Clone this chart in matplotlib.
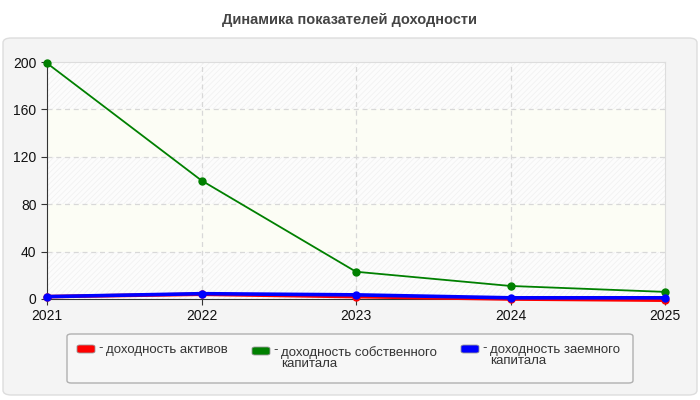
import matplotlib
matplotlib.use("Agg")
import matplotlib.pyplot as plt
from matplotlib.patches import FancyBboxPatch
import matplotlib as mpl

mpl.rcParams['hatch.color'] = '#efefef'
mpl.rcParams['hatch.linewidth'] = 0.5
plt.rcParams['font.family'] = ['Liberation Sans', 'DejaVu Sans']

years = ["2021", "2022", "2023", "2024", "2025"]
roa = [2, 4, 2, 0, -1]
roe = [199, 100, 23, 11, 6]
rod = [2, 4.5, 3.5, 1, 1]
yticks = [0, 40, 80, 120, 160, 200]
labels = ["доходность активов", "доходность собственного\nкапитала", "доходность заемного\nкапитала"]
colors = ["#ff0000", "#008000", "#0000ff"]
title = "Динамика показателей доходности"

W, H = 700, 400
fig = plt.figure(figsize=(7, 4), dpi=100)
fig.patch.set_facecolor('white')

# outer panel
panel = FancyBboxPatch((3 / W, 5 / H), 694 / W, 357 / H, boxstyle="round,pad=0,rounding_size=0.012",
                       transform=fig.transFigure, facecolor='#f4f4f4', edgecolor='#dddddd', lw=1, zorder=-10)
fig.patches.append(panel)

fig.text(0.5, 1 - 20 / H, title, ha='center', va='center', fontsize=10.5, fontweight='bold', color='#444444')

ax = fig.add_axes([47 / W, (400 - 299) / H, (665 - 47) / W, (299 - 62) / H])
ax.set_facecolor('white')
x = list(range(len(years)))

for i in range(len(yticks) - 1):
    lo, hi = yticks[i], yticks[i + 1]
    if i % 2 == 0:
        ax.axhspan(lo, hi, facecolor='#fcfcfc', hatch='//////', edgecolor='#f0f0f0', lw=0, zorder=0)
    else:
        ax.axhspan(lo, hi, facecolor='#fcfdf5', lw=0, zorder=0)

for yv in yticks[1:-1]:
    ax.axhline(yv, color='#d8d8d8', lw=0.9, ls=(0, (4, 3)), zorder=1)
for xv in x[1:-1]:
    ax.axvline(xv, color='#d8d8d8', lw=0.9, ls=(0, (4, 3)), zorder=1)

ax.plot(x, roe, color=colors[1], lw=1.3, marker='o', ms=5, zorder=3, clip_on=False)
ax.plot(x, roa, color=colors[0], lw=2.6, marker='o', ms=5, zorder=3, clip_on=False)
ax.plot(x, rod, color=colors[2], lw=2.6, marker='o', ms=5, zorder=4, clip_on=False)

ax.set_xlim(0, len(years) - 1)
ax.set_ylim(0, 200)
ax.set_xticks(x)
ax.set_xticklabels(years)
ax.set_yticks(yticks)
for s in ['top', 'right']:
    ax.spines[s].set_color('#dddddd')
for s in ['left', 'bottom']:
    ax.spines[s].set_color('#333333')
ax.tick_params(axis='both', labelsize=10, colors='#333333', length=4)
ax.tick_params(axis='x', pad=3)
for t in ax.get_xticklabels() + ax.get_yticklabels():
    t.set_color('#111111')

# legend box
lb = FancyBboxPatch((67 / W, (400 - 383) / H), (633 - 67) / W, (383 - 334) / H,
                    boxstyle="round,pad=0,rounding_size=0.006", transform=fig.transFigure,
                    facecolor='#f7f7f7', edgecolor='#b0b0b0', lw=1, zorder=1)
fig.patches.append(lb)
entries = [(77, 345, labels[0]), (252, 347, labels[1]), (461, 345, labels[2])]
for (px, py, lab), c in zip(entries, colors):
    sw = FancyBboxPatch((px / W, (400 - py - 8) / H), 18 / W, 8 / H, boxstyle="round,pad=0,rounding_size=0.004",
                        transform=fig.transFigure, facecolor=c, edgecolor='#999999', lw=0.6, zorder=2)
    fig.patches.append(sw)
    fig.text((px + 21) / W, 1 - (py - 3) / H, "-", ha='left', va='top', fontsize=9.5, color='#333333')
    fig.text((px + 29) / W, 1 - (py - 1) / H, lab, ha='left', va='top', fontsize=9.5, color='#333333',
             linespacing=0.85)

fig.savefig("out.png", dpi=100)
